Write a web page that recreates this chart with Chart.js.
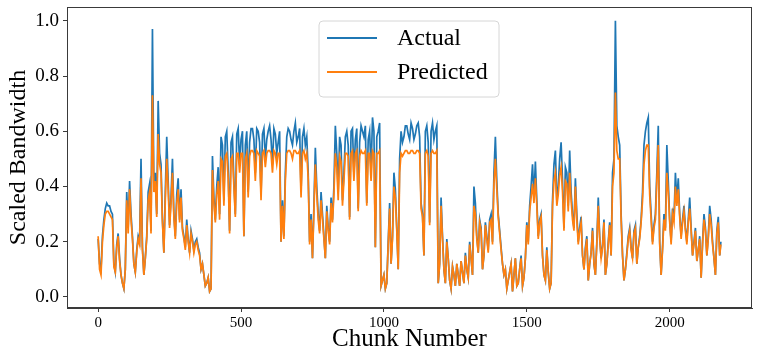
<!DOCTYPE html>
<html><head><meta charset="utf-8">
<script src="https://cdn.jsdelivr.net/npm/chart.js@4"></script>
<style>html,body{margin:0;padding:0;background:#fff}#wrap{width:759px;height:355px}</style>
</head><body><div id="wrap"><canvas id="c" width="759" height="355"></canvas></div>
<script>
const xTicks = [0, 500, 1000, 1500, 2000];
const yTicks = [0, 0.2, 0.4, 0.6, 0.8, 1.0];
const chunkStep = 5;
const lastChunk = 2179;
const seriesNames = ['Actual', 'Predicted'];

const actual = [
0.21,0.12,0.10,0.22,0.28,0.32,0.34,0.33,0.33,0.31,0.30,0.12,0.09,0.19,0.23,0.14,0.08,0.05,0.03,0.10,
0.38,0.25,0.42,0.30,0.22,0.12,0.09,0.17,0.22,0.20,0.50,0.18,0.08,0.14,0.22,0.38,0.41,0.24,0.97,0.40,
0.45,0.30,0.71,0.52,0.48,0.28,0.16,0.38,0.58,0.42,0.26,0.36,0.50,0.30,0.22,0.37,0.43,0.28,0.39,0.25,
0.22,0.18,0.28,0.21,0.16,0.24,0.21,0.17,0.20,0.21,0.18,0.16,0.10,0.12,0.08,0.04,0.05,0.07,0.02,0.03,
0.51,0.36,0.28,0.40,0.47,0.30,0.58,0.55,0.35,0.58,0.60,0.46,0.24,0.56,0.58,0.42,0.30,0.59,0.61,0.48,
0.57,0.60,0.22,0.55,0.60,0.38,0.56,0.61,0.61,0.57,0.45,0.61,0.60,0.56,0.37,0.59,0.61,0.50,0.57,0.60,
0.62,0.57,0.48,0.61,0.59,0.52,0.56,0.60,0.20,0.35,0.22,0.45,0.58,0.61,0.60,0.57,0.55,0.60,0.63,0.56,
0.58,0.61,0.38,0.58,0.61,0.55,0.58,0.45,0.20,0.30,0.14,0.33,0.54,0.40,0.30,0.24,0.38,0.30,0.22,0.14,
0.33,0.25,0.20,0.36,0.28,0.40,0.62,0.52,0.38,0.58,0.55,0.35,0.45,0.58,0.60,0.55,0.29,0.60,0.61,0.44,
0.57,0.61,0.32,0.56,0.62,0.60,0.58,0.62,0.34,0.57,0.60,0.45,0.65,0.60,0.18,0.58,0.60,0.63,0.04,0.06,
0.08,0.03,0.05,0.20,0.34,0.12,0.22,0.45,0.39,0.25,0.10,0.50,0.60,0.56,0.58,0.62,0.62,0.59,0.57,0.63,
0.61,0.57,0.59,0.62,0.63,0.58,0.34,0.30,0.15,0.60,0.62,0.56,0.27,0.60,0.63,0.57,0.60,0.62,0.05,0.12,
0.36,0.22,0.10,0.05,0.21,0.14,0.06,0.03,0.11,0.08,0.04,0.12,0.08,0.04,0.13,0.09,0.05,0.16,0.10,0.07,
0.20,0.14,0.08,0.40,0.34,0.22,0.16,0.28,0.25,0.10,0.15,0.27,0.22,0.17,0.28,0.30,0.20,0.45,0.58,0.42,
0.30,0.24,0.18,0.12,0.08,0.10,0.03,0.06,0.09,0.12,0.02,0.08,0.14,0.04,0.05,0.10,0.15,0.04,0.07,0.14,
0.27,0.20,0.33,0.40,0.48,0.36,0.49,0.35,0.22,0.28,0.30,0.15,0.08,0.06,0.18,0.09,0.03,0.05,0.35,0.48,
0.53,0.35,0.40,0.50,0.56,0.42,0.25,0.47,0.45,0.33,0.53,0.38,0.30,0.25,0.43,0.30,0.20,0.25,0.29,0.15,
0.10,0.18,0.22,0.06,0.12,0.16,0.25,0.12,0.08,0.20,0.36,0.22,0.14,0.19,0.28,0.08,0.12,0.20,0.27,0.15,
0.45,0.50,1.00,0.62,0.58,0.55,0.30,0.15,0.06,0.10,0.16,0.22,0.25,0.18,0.14,0.24,0.26,0.12,0.18,0.22,
0.28,0.38,0.55,0.60,0.63,0.65,0.40,0.30,0.20,0.26,0.30,0.45,0.62,0.20,0.08,0.18,0.30,0.25,0.55,0.42,
0.28,0.20,0.32,0.28,0.45,0.35,0.43,0.30,0.22,0.28,0.33,0.25,0.20,0.28,0.36,0.25,0.15,0.20,0.25,0.13,
0.17,0.22,0.07,0.20,0.30,0.25,0.15,0.22,0.33,0.28,0.20,0.14,0.08,0.24,0.29,0.15,
0.20
];

const predicted = [
0.22,0.10,0.08,0.20,0.26,0.30,0.31,0.31,0.30,0.29,0.28,0.11,0.09,0.18,0.22,0.13,0.08,0.05,0.03,0.10,
0.35,0.23,0.39,0.28,0.21,0.12,0.09,0.16,0.21,0.19,0.43,0.17,0.08,0.14,0.21,0.35,0.38,0.23,0.73,0.38,
0.42,0.29,0.59,0.48,0.45,0.27,0.16,0.35,0.50,0.39,0.25,0.34,0.45,0.29,0.21,0.34,0.39,0.27,0.36,0.24,
0.21,0.17,0.26,0.20,0.16,0.23,0.20,0.16,0.19,0.20,0.17,0.15,0.10,0.12,0.08,0.04,0.05,0.07,0.02,0.03,
0.46,0.34,0.27,0.37,0.42,0.28,0.50,0.49,0.33,0.51,0.52,0.43,0.23,0.50,0.51,0.40,0.29,0.52,0.52,0.45,
0.52,0.52,0.22,0.50,0.52,0.36,0.51,0.53,0.53,0.52,0.42,0.53,0.52,0.51,0.35,0.52,0.53,0.47,0.52,0.53,
0.53,0.52,0.45,0.53,0.52,0.48,0.52,0.52,0.20,0.33,0.21,0.42,0.52,0.53,0.53,0.52,0.50,0.53,0.53,0.52,
0.52,0.53,0.36,0.52,0.53,0.50,0.52,0.43,0.19,0.28,0.14,0.31,0.48,0.37,0.28,0.23,0.35,0.28,0.21,0.14,
0.31,0.24,0.19,0.34,0.27,0.37,0.52,0.47,0.35,0.51,0.49,0.33,0.42,0.52,0.52,0.51,0.28,0.52,0.53,0.42,
0.52,0.53,0.31,0.51,0.53,0.52,0.52,0.53,0.33,0.52,0.52,0.42,0.53,0.52,0.18,0.52,0.52,0.53,0.04,0.06,
0.08,0.03,0.05,0.19,0.32,0.12,0.21,0.40,0.36,0.24,0.10,0.45,0.52,0.51,0.52,0.53,0.53,0.52,0.52,0.53,
0.53,0.52,0.52,0.53,0.53,0.52,0.32,0.29,0.15,0.52,0.53,0.51,0.26,0.52,0.53,0.52,0.52,0.53,0.05,0.12,
0.33,0.21,0.10,0.05,0.20,0.14,0.06,0.03,0.11,0.08,0.04,0.12,0.08,0.04,0.13,0.09,0.05,0.15,0.10,0.07,
0.19,0.14,0.08,0.33,0.30,0.21,0.16,0.27,0.24,0.10,0.15,0.26,0.21,0.16,0.27,0.28,0.19,0.41,0.50,0.39,
0.29,0.23,0.17,0.12,0.08,0.10,0.03,0.06,0.09,0.12,0.02,0.08,0.14,0.04,0.05,0.10,0.14,0.04,0.07,0.14,
0.26,0.19,0.31,0.36,0.41,0.34,0.43,0.33,0.21,0.27,0.29,0.15,0.08,0.06,0.17,0.09,0.03,0.05,0.33,0.42,
0.45,0.33,0.37,0.44,0.47,0.38,0.24,0.42,0.41,0.31,0.45,0.35,0.28,0.24,0.40,0.28,0.19,0.24,0.27,0.15,
0.10,0.17,0.21,0.06,0.12,0.16,0.24,0.12,0.08,0.19,0.33,0.21,0.14,0.18,0.27,0.08,0.12,0.19,0.26,0.15,
0.40,0.45,0.74,0.53,0.50,0.50,0.28,0.15,0.06,0.10,0.15,0.21,0.24,0.17,0.14,0.23,0.25,0.12,0.18,0.21,
0.27,0.35,0.48,0.53,0.55,0.55,0.37,0.28,0.19,0.25,0.28,0.42,0.55,0.19,0.08,0.17,0.28,0.24,0.45,0.38,
0.27,0.19,0.30,0.27,0.40,0.33,0.39,0.29,0.21,0.27,0.31,0.24,0.19,0.27,0.32,0.24,0.15,0.19,0.24,0.13,
0.17,0.21,0.07,0.19,0.28,0.24,0.15,0.21,0.30,0.26,0.19,0.14,0.08,0.23,0.27,0.15,
0.19
];

const chunks = actual.map((_, i) => Math.min(i * chunkStep, lastChunk));
const toPts = arr => arr.map((v, i) => ({x: chunks[i], y: v}));

const SERIF = '"Liberation Serif", "Times New Roman", serif';
const BLUE = '#1f77b4', ORANGE = '#ff7f0e', AXIS = '#3a3a3a';

const framePlugin = {
  id: 'frame',
  afterDraw(chart) {
    const {ctx, chartArea: a} = chart;
    ctx.save();
    ctx.strokeStyle = AXIS; ctx.lineWidth = 1;
    ctx.strokeRect(Math.round(a.left) + 0.5, Math.round(a.top) + 0.5,
                   Math.round(a.right - a.left) - 1, Math.round(a.bottom - a.top) - 1);
    const lx = 319, ly = 21, lw = 180, lh = 76, r = 4;
    ctx.beginPath();
    ctx.moveTo(lx + r, ly); ctx.lineTo(lx + lw - r, ly); ctx.quadraticCurveTo(lx + lw, ly, lx + lw, ly + r);
    ctx.lineTo(lx + lw, ly + lh - r); ctx.quadraticCurveTo(lx + lw, ly + lh, lx + lw - r, ly + lh);
    ctx.lineTo(lx + r, ly + lh); ctx.quadraticCurveTo(lx, ly + lh, lx, ly + lh - r);
    ctx.lineTo(lx, ly + r); ctx.quadraticCurveTo(lx, ly, lx + r, ly);
    ctx.closePath();
    ctx.fillStyle = 'rgba(255,255,255,0.85)'; ctx.fill();
    ctx.strokeStyle = '#d6d6d6'; ctx.lineWidth = 1; ctx.stroke();
    const rows = [[seriesNames[0], BLUE, 38], [seriesNames[1], ORANGE, 72]];
    ctx.font = '24px ' + SERIF; ctx.textBaseline = 'middle'; ctx.textAlign = 'left';
    rows.forEach(([t, c, y]) => {
      ctx.strokeStyle = c; ctx.lineWidth = 2;
      ctx.beginPath(); ctx.moveTo(327, y); ctx.lineTo(377, y); ctx.stroke();
      ctx.fillStyle = '#000'; ctx.fillText(t, 397, y + 1);
    });
    ctx.restore();
  }
};

new Chart(document.getElementById('c'), {
  type: 'line',
  data: {
    datasets: [
      {label: seriesNames[0], data: toPts(actual), borderColor: BLUE, borderWidth: 1.7, pointRadius: 0, tension: 0, order: 1},
      {label: seriesNames[1], data: toPts(predicted), borderColor: ORANGE, borderWidth: 1.7, pointRadius: 0, tension: 0, order: 0}
    ]
  },
  options: {
    responsive: false, animation: false, devicePixelRatio: 1,
    layout: {padding: {top: 7, right: 7, left: 0, bottom: 0}},
    plugins: {legend: {display: false}, tooltip: {enabled: false}},
    scales: {
      x: {
        type: 'linear', min: -109, max: 2288,
        afterBuildTicks: s => { s.ticks = xTicks.map(v => ({value: v})); },
        afterFit: s => { s.height = 47; s.paddingLeft = 0; s.paddingRight = 0; },
        ticks: {font: {family: SERIF, size: 15}, color: '#000', padding: 2, maxRotation: 0, autoSkip: false, callback: v => String(v)},
        grid: {drawOnChartArea: false, drawTicks: true, tickLength: 4, color: AXIS},
        border: {display: true, color: AXIS},
        title: {display: true, text: 'Chunk Number', font: {family: SERIF, size: 25}, color: '#000', padding: {top: 0, bottom: 1}}
      },
      y: {
        min: -0.04, max: 1.05,
        afterBuildTicks: s => { s.ticks = yTicks.map(v => ({value: v})); },
        afterFit: s => { s.width = 67; s.paddingTop = 0; s.paddingBottom = 0; },
        ticks: {font: {family: SERIF, size: 19}, color: '#000', padding: 4, callback: v => v.toFixed(1)},
        grid: {drawOnChartArea: false, drawTicks: true, tickLength: 4, color: AXIS},
        border: {display: true, color: AXIS},
        title: {display: true, text: 'Scaled Bandwidth', font: {family: SERIF, size: 24}, color: '#000', padding: {top: 4, bottom: 0}}
      }
    }
  },
  plugins: [framePlugin]
});
</script>
</body></html>
